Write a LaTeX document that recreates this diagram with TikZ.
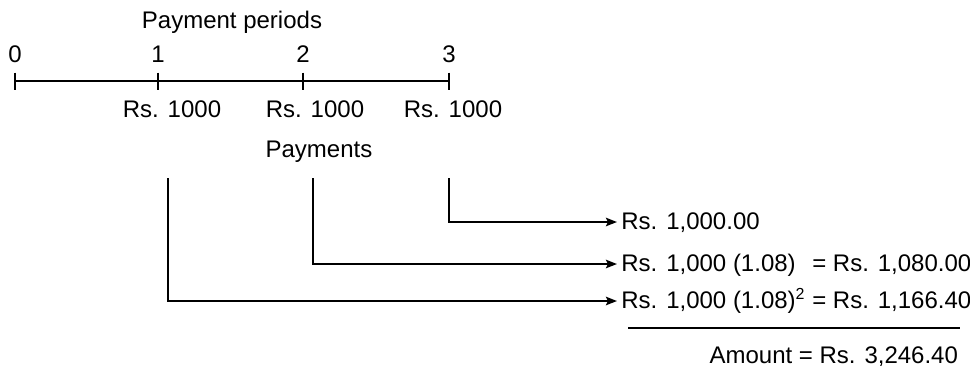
\documentclass[tikz,border=0pt]{standalone}
\usepackage{fontspec}
\setmainfont{Liberation Sans}
\usetikzlibrary{arrows.meta, positioning}
\tikzset{
  >=Stealth,
  timeline/.style={line width=1.4pt},
  flowarrow/.style={-{Stealth[length=5.5pt, width=4.2pt, inset=1pt]}, line width=1.2pt},
  result/.style={anchor=west, inner sep=2pt, text height=0.72em, text depth=0pt},
  sumline/.style={line width=1.2pt}
}

\begin{document}
\begin{tikzpicture}[x=0.5pt, y=-0.5pt, font=\fontsize{12}{14}\selectfont]
    \useasboundingbox (0,0) rectangle (970,365);

    % time line with ticks
    \coordinate (t0) at (15,81);
    \coordinate (t1) at (158,81);
    \coordinate (t2) at (303,81);
    \coordinate (t3) at (449,81);
    \draw[timeline] (t0) -- (t3);
    \foreach \t in {t0,t1,t2,t3}
      \draw[timeline] ([yshift=4.25pt]\t) -- ([yshift=-4.25pt]\t);

    \node (n0) [above=5.5pt of t0] {0};
    \node (n1) [above=5.5pt of t1] {1};
    \node (n2) [above=5.5pt of t2] {2};
    \node (n3) [above=5.5pt of t3] {3};
    \node (periods) [anchor=base] at (232,28) {Payment periods};

    \node (pay1) [anchor=base] at (172,117) {Rs. 1000};
    \node (pay2) [anchor=base] at (315,117) {Rs. 1000};
    \node (pay3) [anchor=base] at (453,117) {Rs. 1000};
    \node (payments) [anchor=base] at (319,157) {Payments};

    % compounded values
    \coordinate (p1) at (168,178);
    \coordinate (p2) at (313,178);
    \coordinate (p3) at (449,178);
    \node (r1) [result] at (617,222) {Rs. 1,000.00};
    \node (r2) [result] at (617,264) {Rs. 1,000 (1.08)\phantom{\textsuperscript{2}} = Rs. 1,080.00};
    \node (r3) [result] at (617,301) {Rs. 1,000 (1.08)\textsuperscript{2} = Rs. 1,166.40};

    \draw[flowarrow] (p3) |- (r1);
    \draw[flowarrow] (p2) |- (r2);
    \draw[flowarrow] (p1) |- (r3);

    \draw[sumline] (628,328) -- (960,328);
    \node (amount) [anchor=base east] at (965,363) {Amount = Rs. 3,246.40};
\end{tikzpicture}
\end{document}
